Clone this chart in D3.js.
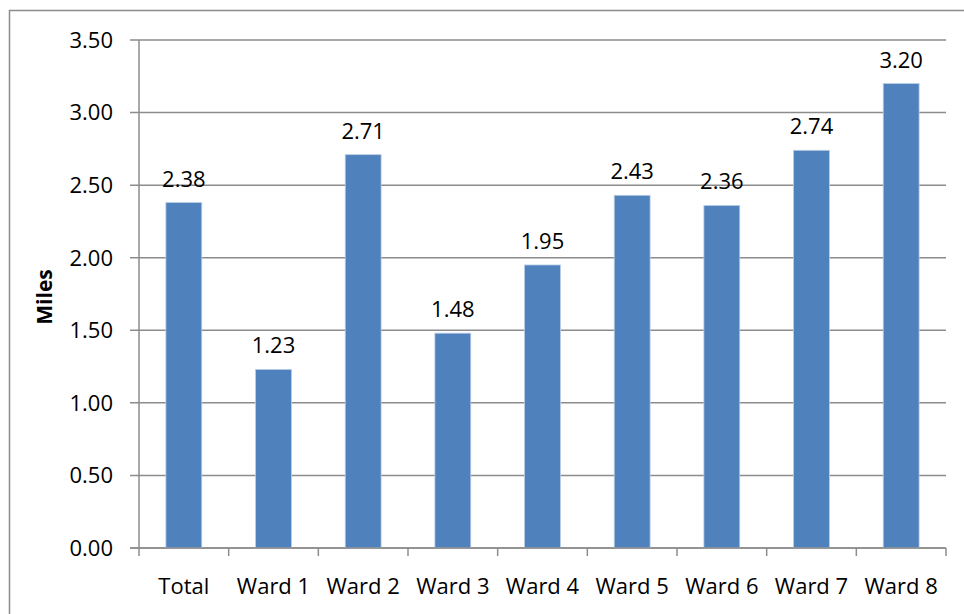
<!DOCTYPE html>
<html>
<head>
<meta charset="utf-8">
<script src="https://cdn.jsdelivr.net/npm/d3@7"></script>
<style>
  html, body { margin: 0; padding: 0; background: #fff; }
  svg { display: block; }
  text { font-family: "Open Sans", "Liberation Sans", sans-serif; fill: #000; }
</style>
</head>
<body>
<svg id="chart" width="964" height="614"></svg>
<script>
const categories = ["Total", "Ward 1", "Ward 2", "Ward 3", "Ward 4", "Ward 5", "Ward 6", "Ward 7", "Ward 8"];
const values = [2.38, 1.23, 2.71, 1.48, 1.95, 2.43, 2.36, 2.74, 3.20];
const yTicks = [0, 0.5, 1.0, 1.5, 2.0, 2.5, 3.0, 3.5];
const yTitle = "Miles";

const svg = d3.select("#chart");
const W = 964, H = 614;
const m = { left: 139, right: 18, top: 40, bottom: 66 };
const plotW = W - m.left - m.right;
const plotH = H - m.top - m.bottom;

// chart border
svg.append("rect")
  .attr("x", 9.5).attr("y", 10.5)
  .attr("width", W - 9.5 + 5).attr("height", H - 10.5 + 5)
  .attr("fill", "none").attr("stroke", "#8c8c8c").attr("stroke-width", 1.5);

const g = svg.append("g").attr("transform", `translate(${m.left},${m.top})`);

const x = d3.scaleBand().domain(categories).range([0, plotW]).paddingInner(0.6).paddingOuter(0.3);
const y = d3.scaleLinear().domain([0, 3.5]).range([plotH, 0]);

// gridlines
g.append("g").selectAll("line").data(yTicks).join("line")
  .attr("x1", -9).attr("x2", plotW)
  .attr("y1", d => y(d)).attr("y2", d => y(d))
  .attr("stroke", "#8c8c8c").attr("stroke-width", 1.5);

// y axis line
g.append("line").attr("x1", 0).attr("x2", 0).attr("y1", 0).attr("y2", plotH)
  .attr("stroke", "#8c8c8c").attr("stroke-width", 1.5);

// y tick labels
g.append("g").selectAll("text").data(yTicks).join("text")
  .attr("x", -26).attr("y", d => y(d))
  .attr("dy", "0.36em")
  .attr("text-anchor", "end")
  .attr("font-size", 22)
  .text(d => d3.format(".2f")(d));

// x axis ticks
const step = plotW / categories.length;
const xTickPos = d3.range(categories.length + 1).map(i => i * step);
g.append("g").selectAll("line").data(xTickPos).join("line")
  .attr("x1", d => d).attr("x2", d => d)
  .attr("y1", plotH).attr("y2", plotH + 8)
  .attr("stroke", "#8c8c8c").attr("stroke-width", 1.5);

// bars
g.append("g").selectAll("rect").data(values).join("rect")
  .attr("x", (d, i) => x(categories[i]))
  .attr("y", d => y(d))
  .attr("width", x.bandwidth())
  .attr("height", d => plotH - y(d))
  .attr("fill", "#4F81BD")
  .attr("stroke", "#b9cde5").attr("stroke-width", 0.8);

// x axis line (over bars)
g.append("line").attr("x1", -9).attr("x2", plotW).attr("y1", plotH).attr("y2", plotH)
  .attr("stroke", "#8c8c8c").attr("stroke-width", 1.5);

// data labels
g.append("g").selectAll("text").data(values).join("text")
  .attr("x", (d, i) => x(categories[i]) + x.bandwidth() / 2)
  .attr("y", d => y(d) - 16)
  .attr("text-anchor", "middle")
  .attr("font-size", 22)
  .text(d => d3.format(".2f")(d));

// category labels
g.append("g").selectAll("text").data(categories).join("text")
  .attr("x", (d, i) => x(d) + x.bandwidth() / 2)
  .attr("y", plotH + 46)
  .attr("text-anchor", "middle")
  .attr("font-size", 22)
  .text(d => d);

// y title
svg.append("text")
  .attr("transform", `translate(52,${m.top + plotH / 2 + 3}) rotate(-90)`)
  .attr("text-anchor", "middle")
  .attr("font-size", 21)
  .attr("font-weight", "bold")
  .text(yTitle);
</script>
</body>
</html>
